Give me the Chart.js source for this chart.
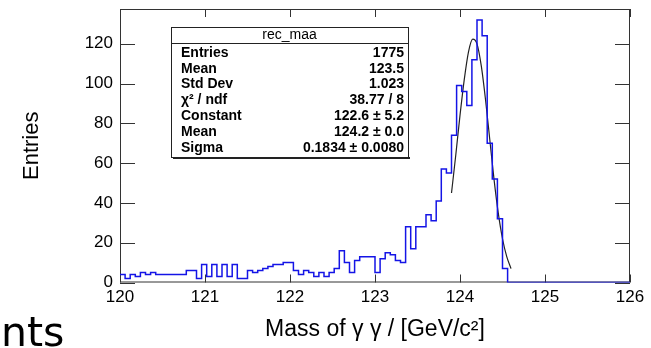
<!DOCTYPE html>
<html>
<head>
<meta charset="utf-8">
<script src="https://cdn.jsdelivr.net/npm/chart.js@4.4.1/dist/chart.umd.min.js"></script>
<style>
  html, body { margin: 0; padding: 0; background: #fff; }
  #wrap { position: relative; width: 651px; height: 348px; overflow: hidden; }
</style>
</head>
<body>
<div id="wrap"><canvas id="massPlot" width="651" height="348"></canvas></div>
<script>
// rec_maa histogram, 100 bins from 120 to 126
const xLow = 120;
const xHigh = 126;
const binWidth = 0.06;
const counts = [
  4, 2, 4, 3, 5, 4, 5, 4, 4, 4,
  4, 4, 4, 6, 6, 2, 9, 3, 9, 3,
  9, 3, 9, 2, 2, 6, 5, 6, 7, 8,
  9, 9, 10, 10, 6, 4, 6, 5, 3, 5,
  3, 5, 7, 16, 10, 5, 11, 13, 13, 13,
  5, 12, 15, 14, 11, 10, 28, 17, 28, 28,
  34, 31, 41, 57, 55, 74, 99, 96, 89, 112,
  132, 124, 70, 52, 32, 7, 0, 0, 0, 0,
  0, 0, 0, 0, 0, 0, 0, 0, 0, 0,
  0, 0, 0, 0, 0, 0, 0, 0, 0, 0
];

// gaus fit curve
const fitX = [123.90, 123.95, 124.00, 124.05, 124.10, 124.15, 124.20, 124.25,
              124.30, 124.35, 124.40, 124.45, 124.50, 124.55, 124.60];
const fitY = [45, 64, 84, 102, 116, 122.4, 120, 109,
              92, 72, 52, 35, 22, 13, 7];

const xTicks = [120, 121, 122, 123, 124, 125, 126];
const yTicks = [0, 20, 40, 60, 80, 100, 120];
const yMax = 137.5;

const statTitle = "rec_maa";
const statLabels = ["Entries", "Mean", "Std Dev", "χ² / ndf", "Constant", "Mean", "Sigma"];
const statValues = ["1775", "123.5", "1.023", "38.77 / 8", "122.6 ± 5.2", "124.2 ± 0.0", "0.1834 ± 0.0080"];

const histPoints = [];
counts.forEach((c, i) => {
  const lo = xLow + i * binWidth;
  histPoints.push({ x: lo, y: c }, { x: lo + binWidth, y: c });
});
const fitPoints = fitX.map((v, i) => ({ x: v, y: fitY[i] }));

const FONT = "'Liberation Sans', Arial, Helvetica, sans-serif";

// frame + inward ticks like a ROOT pad
const framePlugin = {
  id: "frame",
  beforeDatasetsDraw(chart) {
    const { ctx, chartArea: a, scales } = chart;
    ctx.save();
    ctx.strokeStyle = "#333";
    ctx.lineWidth = 1;
    ctx.strokeRect(a.left + 0.5, a.top + 0.5, a.width - 1, a.height - 1);
    ctx.beginPath();
    xTicks.forEach(v => {
      const px = Math.round(scales.x.getPixelForValue(v)) + 0.5;
      ctx.moveTo(px, a.bottom); ctx.lineTo(px, a.bottom - 8);
      ctx.moveTo(px, a.top); ctx.lineTo(px, a.top + 8);
    });
    yTicks.forEach(v => {
      const py = Math.round(scales.y.getPixelForValue(v)) + 0.5;
      ctx.moveTo(a.left, py); ctx.lineTo(a.left + 15, py);
      ctx.moveTo(a.right, py); ctx.lineTo(a.right - 15, py);
    });
    ctx.stroke();
    ctx.restore();
  },
  afterDraw(chart) {
    const ctx = chart.ctx;
    ctx.save();
    // stats box
    const bx = 171, by = 27, bw = 237, bh = 130;
    ctx.fillStyle = "#fff";
    ctx.fillRect(bx, by, bw, bh);
    ctx.fillStyle = "#222";
    ctx.fillRect(bx + 2, by + bh, bw, 2);
    ctx.fillRect(bx + bw, by + 2, 1, bh);
    ctx.strokeStyle = "#222";
    ctx.lineWidth = 1;
    ctx.strokeRect(bx + 0.5, by + 0.5, bw, bh);
    ctx.beginPath();
    ctx.moveTo(bx, by + 16.5); ctx.lineTo(bx + bw, by + 16.5);
    ctx.stroke();
    ctx.fillStyle = "#000";
    ctx.textBaseline = "middle";
    ctx.textAlign = "center";
    ctx.font = "14px " + FONT;
    ctx.fillText(statTitle, bx + bw / 2, by + 8.5);
    ctx.font = "bold 14px " + FONT;
    statLabels.forEach((lab, k) => {
      const ty = by + 26 + k * 15.8;
      ctx.textAlign = "left";
      ctx.fillText(lab, bx + 10, ty);
      ctx.textAlign = "right";
      ctx.fillText(statValues[k], bx + bw - 4, ty);
    });
    // leftover text at the bottom-left corner
    ctx.textAlign = "left";
    ctx.textBaseline = "alphabetic";
    ctx.font = "41px 'DejaVu Sans'";
    ctx.fillText("nts", 1, 346);
    ctx.restore();
  }
};

const ctx = document.getElementById("massPlot").getContext("2d");

new Chart(ctx, {
  type: "line",
  data: {
    datasets: [
      {
        label: "rec_maa",
        data: histPoints,
        borderColor: "rgb(20, 20, 230)",
        borderWidth: 1.5,
        pointRadius: 0,
        tension: 0,
        fill: false
      },
      {
        label: "gaus",
        data: fitPoints,
        borderColor: "#222",
        borderWidth: 1.2,
        pointRadius: 0,
        cubicInterpolationMode: "monotone",
        fill: false
      }
    ]
  },
  options: {
    responsive: false,
    animation: false,
    devicePixelRatio: 1,
    layout: { padding: { top: 9, right: 21, left: 0, bottom: 0 } },
    plugins: { legend: { display: false }, tooltip: { enabled: false } },
    scales: {
      x: {
        type: "linear",
        min: xLow,
        max: xHigh,
        afterBuildTicks: s => { s.ticks = xTicks.map(v => ({ value: v })); },
        afterFit: s => { s.height = 65.5; },
        grid: { display: false, drawTicks: false },
        border: { display: false },
        ticks: { color: "#000", padding: 5, font: { family: FONT, size: 17 }, maxRotation: 0 },
        title: {
          display: true,
          text: "Mass of γ γ / [GeV/c²]",
          color: "#000",
          font: { family: FONT, size: 23 },
          padding: { top: 0, bottom: 5 }
        }
      },
      y: {
        min: 0,
        max: yMax,
        afterBuildTicks: s => { s.ticks = yTicks.map(v => ({ value: v })); },
        afterFit: s => { s.width = 120; s.paddingTop = 0; s.paddingBottom = 0; },
        grid: { display: false, drawTicks: false },
        border: { display: false },
        ticks: { color: "#000", padding: 7, font: { family: FONT, size: 17 } },
        title: {
          display: true,
          text: "Entries",
          color: "#000",
          font: { family: FONT, size: 22 },
          padding: { top: 19, bottom: 0 }
        }
      }
    }
  },
  plugins: [framePlugin]
});
</script>
</body>
</html>
